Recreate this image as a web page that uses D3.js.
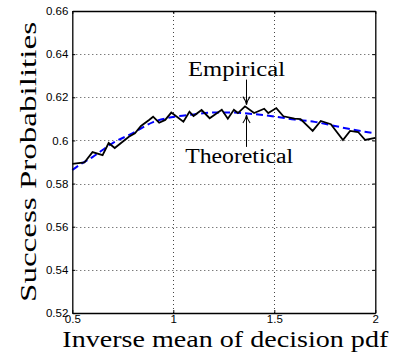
<!DOCTYPE html>
<html>
<head>
<meta charset="utf-8">
<script src="https://cdn.jsdelivr.net/npm/d3@7"></script>
<style>
  html, body { margin: 0; padding: 0; background: #fff; }
  svg { display: block; }
</style>
</head>
<body>
<svg id="chart" width="403" height="358"></svg>
<script>
// --- data ---
const empX = [0.50, 0.56, 0.60, 0.65, 0.68, 0.71, 0.78, 0.81, 0.84, 0.88, 0.90, 0.93, 0.96, 0.99,
              1.05, 1.08, 1.10, 1.14, 1.18, 1.24, 1.27, 1.30, 1.32, 1.355, 1.40, 1.45, 1.47, 1.51,
              1.545, 1.60, 1.63, 1.69, 1.73, 1.78, 1.84, 1.875, 1.915, 1.95, 2.00];
const empY = [0.5891, 0.5898, 0.5946, 0.5932, 0.5988, 0.5965, 0.6017, 0.6033, 0.6067, 0.6095, 0.6110, 0.6082, 0.6095, 0.6129,
              0.6087, 0.6133, 0.6113, 0.6141, 0.6103, 0.6142, 0.6101, 0.6142, 0.6127, 0.6158, 0.6127, 0.6147, 0.6127, 0.6150,
              0.6112, 0.6101, 0.6099, 0.6044, 0.6090, 0.6075, 0.6002, 0.6044, 0.6039, 0.6002, 0.6012];

const theoX = [0.50, 0.55, 0.60, 0.70, 0.80, 0.90, 1.00, 1.10, 1.20, 1.30, 1.40, 1.50, 1.60, 1.70, 1.80, 1.90, 2.00];
const theoY = [0.5863, 0.5895, 0.5923, 0.5988, 0.6034, 0.6085, 0.6109, 0.6120, 0.6129, 0.6129, 0.6122, 0.6111, 0.6097, 0.6086, 0.6067, 0.6048, 0.6033];

const xTicks = [0.5, 1, 1.5, 2];
const xTickLabels = ["0.5", "1", "1.5", "2"];
const yTicks = [0.52, 0.54, 0.56, 0.58, 0.60, 0.62, 0.64, 0.66];
const yTickLabels = ["0.52", "0.54", "0.56", "0.58", "0.6", "0.62", "0.64", "0.66"];

const xLabel = "Inverse mean of decision pdf";
const yLabel = "Success Probabilities";

// annotations in data units: text centre, arrow x, arrow tail y, arrow tip y
const notes = [
    { text: "Empirical", tx: 1.313, ty: 0.6299, len: 97, ax: 1.36, y0: 0.6282, y1: 0.6166 },
    { text: "Theoretical", tx: 1.326, ty: 0.5894, len: 108, ax: 1.36, y0: 0.5970, y1: 0.6118 }
];

// --- layout ---
const svg = d3.select("#chart");
const margin = { left: 72.3, right: 27.7, top: 11, bottom: 45 };
const W = 403, H = 358;

const x = d3.scaleLinear().domain([0.5, 2]).range([margin.left, W - margin.right]);
const y = d3.scaleLinear().domain([0.52, 0.66]).range([H - margin.bottom, margin.top]);
const crisp = v => Math.round(v) + 0.5;

const sans = "'Liberation Sans', Arial, Helvetica, sans-serif";
const serif = "'Liberation Serif', 'Times New Roman', serif";

// grid (dotted, interior only)
const grid = svg.append("g").attr("stroke", "#444").attr("stroke-width", 1)
    .attr("stroke-dasharray", "1,3").attr("fill", "none");
grid.selectAll("line.gx").data(xTicks.slice(1, -1)).enter().append("line").attr("class", "gx")
    .attr("x1", d => crisp(x(d))).attr("x2", d => crisp(x(d)))
    .attr("y1", y(0.52)).attr("y2", y(0.66));
grid.selectAll("line.gy").data(yTicks.slice(1, -1)).enter().append("line").attr("class", "gy")
    .attr("x1", x(0.5)).attr("x2", x(2))
    .attr("y1", d => crisp(y(d))).attr("y2", d => crisp(y(d)));

// theoretical curve: blue dashed
const line = d3.line().x(d => x(d[0])).y(d => y(d[1])).curve(d3.curveMonotoneX);
svg.append("path")
    .datum(theoX.map((v, i) => [v, theoY[i]]))
    .attr("d", line)
    .attr("fill", "none").attr("stroke", "#0000ff").attr("stroke-width", 2)
    .attr("stroke-dasharray", "7,4");

// empirical: black solid polyline
const poly = d3.line().x(d => x(d[0])).y(d => y(d[1]));
svg.append("path")
    .datum(empX.map((v, i) => [v, empY[i]]))
    .attr("d", poly)
    .attr("fill", "none").attr("stroke", "#000").attr("stroke-width", 1.8)
    .attr("stroke-linejoin", "miter");

// axes box + inward ticks (matlab style)
const axB = svg.append("g").attr("transform", `translate(0,${y(0.52)})`)
    .call(d3.axisBottom(x).tickValues(xTicks).tickSizeInner(-3).tickSizeOuter(0).tickPadding(2)
        .tickFormat((d, i) => xTickLabels[i]));
const axT = svg.append("g").attr("transform", `translate(0,${y(0.66)})`)
    .call(d3.axisTop(x).tickValues(xTicks).tickSizeInner(-3).tickSizeOuter(0).tickFormat(""));
const axL = svg.append("g").attr("transform", `translate(${x(0.5)},0)`)
    .call(d3.axisLeft(y).tickValues(yTicks).tickSizeInner(-3).tickSizeOuter(0).tickPadding(4)
        .tickFormat((d, i) => yTickLabels[i]));
const axR = svg.append("g").attr("transform", `translate(${x(2)},0)`)
    .call(d3.axisRight(y).tickValues(yTicks).tickSizeInner(-3).tickSizeOuter(0).tickFormat(""));

[axB, axT, axL, axR].forEach(a => {
    a.select(".domain").attr("stroke", "#000").attr("stroke-width", 1.3);
    a.selectAll(".tick line").attr("stroke", "#000").attr("stroke-width", 1);
    a.selectAll("text").attr("fill", "#000").style("font-family", sans).style("font-size", "11.5px");
});

// axis titles
svg.append("text")
    .attr("x", x(0.5) - 10).attr("y", 347)
    .attr("textLength", 326).attr("lengthAdjust", "spacingAndGlyphs")
    .style("font-family", serif).style("font-size", "23px").attr("fill", "#000")
    .text(xLabel);

svg.append("text")
    .attr("transform", `translate(36,${(y(0.52) + y(0.66)) / 2}) rotate(-90)`)
    .attr("text-anchor", "middle")
    .attr("textLength", 280).attr("lengthAdjust", "spacingAndGlyphs")
    .style("font-family", serif).style("font-size", "23px").attr("fill", "#000")
    .text(yLabel);

// annotations with latex-like arrows
const arrowHead = (tx, ty, dir) => {
    // dir = +1 pointing down, -1 pointing up
    const l = 8 * dir, w = 3.6;
    return `M${tx - w},${ty - l} Q${tx - 0.8},${ty - l * 0.55} ${tx},${ty} Q${tx + 0.8},${ty - l * 0.55} ${tx + w},${ty - l}`;
};

notes.forEach(n => {
    svg.append("text")
        .attr("x", x(n.tx)).attr("y", y(n.ty))
        .attr("text-anchor", "middle")
        .attr("textLength", n.len).attr("lengthAdjust", "spacingAndGlyphs")
        .style("font-family", serif).style("font-size", "20px").attr("fill", "#000")
        .text(n.text);
    const dir = y(n.y1) > y(n.y0) ? 1 : -1;
    svg.append("line")
        .attr("x1", crisp(x(n.ax))).attr("x2", crisp(x(n.ax)))
        .attr("y1", y(n.y0)).attr("y2", y(n.y1))
        .attr("stroke", "#000").attr("stroke-width", 1);
    svg.append("path")
        .attr("d", arrowHead(crisp(x(n.ax)), y(n.y1), dir))
        .attr("fill", "none").attr("stroke", "#000").attr("stroke-width", 1.1);
});
</script>
</body>
</html>
